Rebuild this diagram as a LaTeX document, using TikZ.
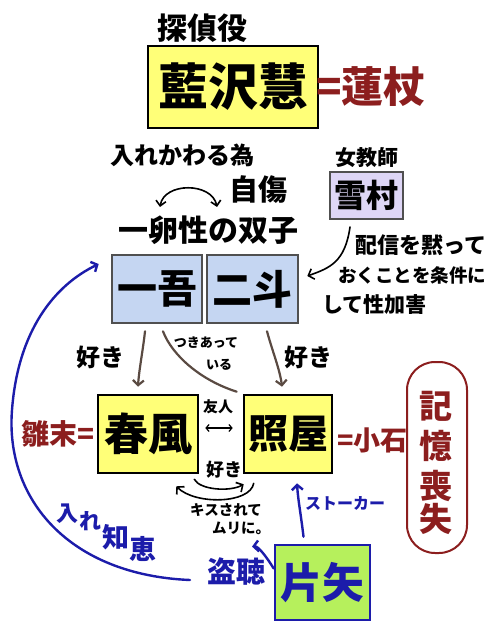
\documentclass[tikz,border=0pt]{standalone}
\usepackage{fontspec}
\setmainfont{Noto Sans CJK JP}
\usetikzlibrary{arrows.meta,calc}
\definecolor{yfill}{RGB}{255,255,120}
\definecolor{bfill}{RGB}{197,214,242}
\definecolor{lfill}{RGB}{222,214,246}
\definecolor{gfill}{RGB}{182,240,92}
\definecolor{rbrown}{RGB}{140,30,30}
\definecolor{dblue}{RGB}{28,28,170}
\definecolor{agrey}{RGB}{90,74,66}
\definecolor{bborder}{RGB}{80,80,80}
\newcommand{\myfs}[1]{\fontsize{#1}{#1}\selectfont}
\begin{document}
\begin{tikzpicture}[x=1pt,y=-1pt, font=\bfseries,
  box/.style={draw, line width=2.6pt, inner sep=0pt, anchor=center},
  ybox/.style={box, fill=yfill, draw=black},
  bbox/.style={box, fill=bfill, draw=bborder},
  lbox/.style={box, fill=lfill, draw=bborder, line width=2pt},
  gbox/.style={box, fill=gfill, draw=dblue, text=dblue},
  lbl/.style={inner sep=0pt},
  rlbl/.style={lbl, text=rbrown},
  blbl/.style={lbl, text=dblue},
  tip/.style={-{Straight Barb[length=5pt,width=11pt]}},
  gline/.style={draw=agrey, line width=2.2pt, line cap=round},
  garrow/.style={gline, tip},
  karrow/.style={draw=black, line width=1.6pt, line cap=round},
  barrow/.style={draw=dblue, line width=2.4pt, line cap=round, tip}
]
\useasboundingbox[fill=white] (0,0) rectangle (500,628);

% boxes
\node[ybox, minimum width=170pt, minimum height=82pt] (aizawa) at (233,87) {\myfs{50}藍沢慧};
\node[lbox, minimum width=73pt, minimum height=47pt] (yukimura) at (366,195.5) {\myfs{32}雪村};
\node[bbox, minimum width=90pt, minimum height=68pt] (ichigo) at (157,289) {\myfs{40}一吾};
\node[bbox, minimum width=91pt, minimum height=68pt] (nito) at (252.5,289) {\myfs{40}二斗};
\node[ybox, minimum width=100pt, minimum height=78pt] (harukaze) at (148,434) {\myfs{44}春風};
\node[ybox, minimum width=88pt, minimum height=78pt] (teruya) at (288,434) {\myfs{40}照屋};
\node[gbox, minimum width=95pt, minimum height=75pt] (katayano) at (322.5,582.5) {\myfs{42}片矢};

% labels
\node[lbl] (tantei) at (202,28) {\myfs{30}探偵役};
\node[rlbl, anchor=west] (renjo) at (316,87) {\myfs{42}=蓮杖};
\node[lbl] (irekawaru) at (182,155) {\myfs{24}入れかわる為};
\node[lbl] (jisho) at (258,190) {\myfs{29}自傷};
\node[lbl] (futago) at (208,230) {\myfs{30}一卵性の双子};
\node[lbl] (onna) at (367,158) {\myfs{21}女教師};
\node[lbl, anchor=west] (haishin1) at (355,245) {\myfs{22}配信を黙って};
\node[lbl, anchor=west] (haishin2) at (338,275) {\myfs{18.5}おくことを条件に};
\node[lbl, anchor=west] (haishin3) at (322,305) {\myfs{21}して性加害};
\node[lbl] (suki1) at (100,357) {\myfs{24}好き};
\node[lbl] (suki2) at (308,357) {\myfs{24}好き};
\node[lbl] (tsuki1) at (206,343) {\myfs{13}つきあって};
\node[lbl] (tsuki2) at (219,365) {\myfs{13}いる};
\node[lbl] (yujin) at (218,407) {\myfs{15}友人};
\node[rlbl, anchor=east] (hinasue) at (95,434) {\myfs{28}雛末=};
\node[rlbl, anchor=west] (koishi) at (337,440) {\myfs{27}=小石};
\node[rlbl, align=center, text width=34pt] (kioku) at (436,463) {\fontsize{33}{40}\selectfont 記\\憶\\喪\\失};
\node[lbl] (suki3) at (224,470) {\myfs{18}好き};
\node[lbl] (kiss1) at (226,510) {\myfs{14.5}キスされて};
\node[lbl] (kiss2) at (241,528) {\myfs{14.5}ムリに。};
\node[blbl] (stalker) at (345,503) {\myfs{16}ストーカー};
\node[blbl] (touchou) at (236,572) {\myfs{29}盗聴};
\node[blbl] (chie1) at (67,514) {\myfs{22}入};
\node[blbl] (chie2) at (90,521) {\myfs{22}れ};
\node[blbl] (chie3) at (116,537) {\myfs{27}知};
\node[blbl] (chie4) at (143,549) {\myfs{27}恵};

% pill around 記憶喪失
\draw[draw=rbrown, line width=2pt, rounded corners=28pt] (407,362) rectangle (467,553);

% swap arrow
\coordinate (swapL) at (160,207);
\coordinate (swapR) at (217,207);
\draw[karrow, {Straight Barb[length=5pt,width=10pt]}-{Straight Barb[length=5pt,width=10pt]}]
  (swapL) .. controls (164,182) and (212,182) .. (swapR);

% Yukimura -> Nito
\draw[karrow, tip] ($(yukimura.south)+(-16,7)$) .. controls (345,262) and (330,268) .. ($(nito.east)+(8,-13)$);

% likes
\draw[garrow] ($(ichigo.south)+(-12,7)$) .. controls (143,350) and (139,370) .. ($(harukaze.north)+(-10,-7)$);
\draw[garrow] ($(nito.south)+(14.5,7)$) .. controls (272,350) and (280,370) .. ($(teruya.north)+(-6,-7)$);
\draw[gline] ($(ichigo.south)+(6,7)$) .. controls (172,355) and (200,380) .. ($(teruya.north west)+(-6,-2)$);

% friends
\draw[karrow, line width=1.2pt, {Straight Barb[length=3pt,width=7pt]}-{Straight Barb[length=3pt,width=7pt]}]
  ($(harukaze.east)+(6,-6)$) -- ($(teruya.west)+(-10,-6)$);

% likes / kiss arcs
\draw[karrow, tip] ($(harukaze.south east)+(-5,5)$) .. controls (200,490) and (230,492) .. ($(teruya.south west)+(1,10)$);
\draw[karrow, tip] ($(teruya.south west)+(11,9)$) .. controls (250,504) and (195,505) .. ($(harukaze.south east)+(-23,12)$);

% blue arrows
\draw[barrow] ($(katayano.north)+(-19,-7)$) .. controls (301,515) and (298,500) .. ($(teruya.south)+(9,9)$);
\draw[barrow] ($(katayano.west)+(0,-14)$) .. controls (266,556) and (258,546) .. ($(kiss2.south)+(11,12)$);
\coordinate (chieStart) at (190,580);
\draw[barrow] (chieStart) .. controls (70,575) and (5,500) .. (12,410)
  .. controls (18,330) and (55,285) .. ($(ichigo.west)+(-12,-25)$);
\end{tikzpicture}
\end{document}
